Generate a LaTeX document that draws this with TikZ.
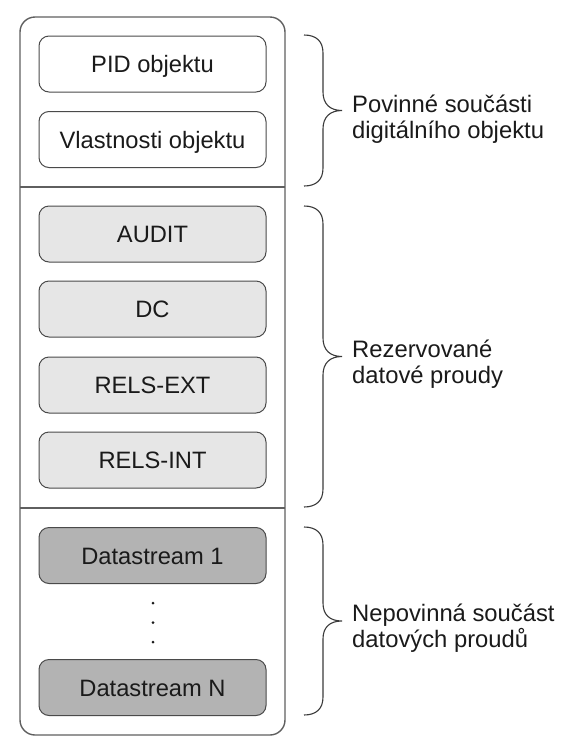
\documentclass[tikz,border=0pt]{standalone}
\usepackage{fontspec}
\setmainfont{Liberation Sans}
\definecolor{outerline}{HTML}{5F5F5F}
\definecolor{boxline}{HTML}{4A4A4A}
\definecolor{lightfill}{HTML}{E6E6E6}
\definecolor{darkfill}{HTML}{B3B3B3}
\definecolor{txt}{HTML}{1A1A1A}
\definecolor{bracecol}{HTML}{3A3A3A}
\begin{document}
\begin{tikzpicture}[x=1pt,y=-1pt,
  ibox/.style={draw=boxline, line width=1pt, rounded corners=10pt, minimum width=227pt, minimum height=56pt,
    inner sep=0pt, text=txt, font=\fontsize{23.7pt}{26pt}\selectfont, text height=17pt, text depth=0pt},
  whitebox/.style={ibox, fill=white},
  lightbox/.style={ibox, fill=lightfill},
  darkbox/.style={ibox, fill=darkfill},
  bracestyle/.style={draw=bracecol, line width=1.1pt},
  lbl/.style={align=left, anchor=base west, inner sep=0pt, text=txt, font=\fontsize{23.8pt}{26pt}\selectfont},
  dotnode/.style={circle, fill=txt, inner sep=0pt, minimum size=3pt}
]
\useasboundingbox (0,0) rectangle (584,756);
% outer container
\node[draw=outerline, line width=1.4pt, rounded corners=15pt, minimum width=265pt, minimum height=718pt, inner sep=0pt] (outer) at (152.5,376) {};
\coordinate (d1l) at (20,187); \coordinate (d1r) at (285,187);
\coordinate (d2l) at (20,508); \coordinate (d2r) at (285,508);
\draw[draw=outerline, line width=1.4pt] (d1l) -- (d1r);
\draw[draw=outerline, line width=1.4pt] (d2l) -- (d2r);
% boxes
\node[whitebox] (pid) at (152.5,64) {PID objektu};
\node[whitebox] (vl) at (152.5,139.5) {Vlastnosti objektu};
\node[lightbox] (audit) at (152.5,234) {AUDIT};
\node[lightbox] (dc) at (152.5,309) {DC};
\node[lightbox] (relsext) at (152.5,385) {RELS-EXT};
\node[lightbox] (relsint) at (152.5,460) {RELS-INT};
\node[darkbox] (ds1) at (152.5,555.5) {Datastream 1};
\node[darkbox] (dsn) at (152.5,687.5) {Datastream N};
% dots
\node[dotnode] (dot1) at (153,603) {};
\node[dotnode] (dot2) at (153,622.5) {};
\node[dotnode] (dot3) at (153,642) {};
% braces
\draw[bracestyle] (304,35) .. controls (316,35) and (323,41) .. (323,53) -- (323,92)
  .. controls (323,104) and (330,110.5) .. (342,110.5)
  .. controls (330,110.5) and (323,117) .. (323,129) -- (323,168)
  .. controls (323,180) and (316,186) .. (304,186);
\draw[bracestyle] (304,206) .. controls (316,206) and (323,212) .. (323,224) -- (323,338)
  .. controls (323,350) and (330,356.5) .. (342,356.5)
  .. controls (330,356.5) and (323,363) .. (323,375) -- (323,489)
  .. controls (323,501) and (316,507) .. (304,507);
\draw[bracestyle] (304,527) .. controls (316,527) and (323,533) .. (323,545) -- (323,603)
  .. controls (323,615) and (330,621) .. (342,621)
  .. controls (330,621) and (323,627) .. (323,639) -- (323,697)
  .. controls (323,709) and (316,715) .. (304,715);
% labels (base anchor = baseline of last line)
\node[lbl] (l1) at (352,138) {Povinné součásti\\digitálního objektu};
\node[lbl] (l2) at (352,383) {Rezervované\\datové proudy};
\node[lbl] (l3) at (352,647) {Nepovinná součást\\datových proudů};
\end{tikzpicture}
\end{document}
